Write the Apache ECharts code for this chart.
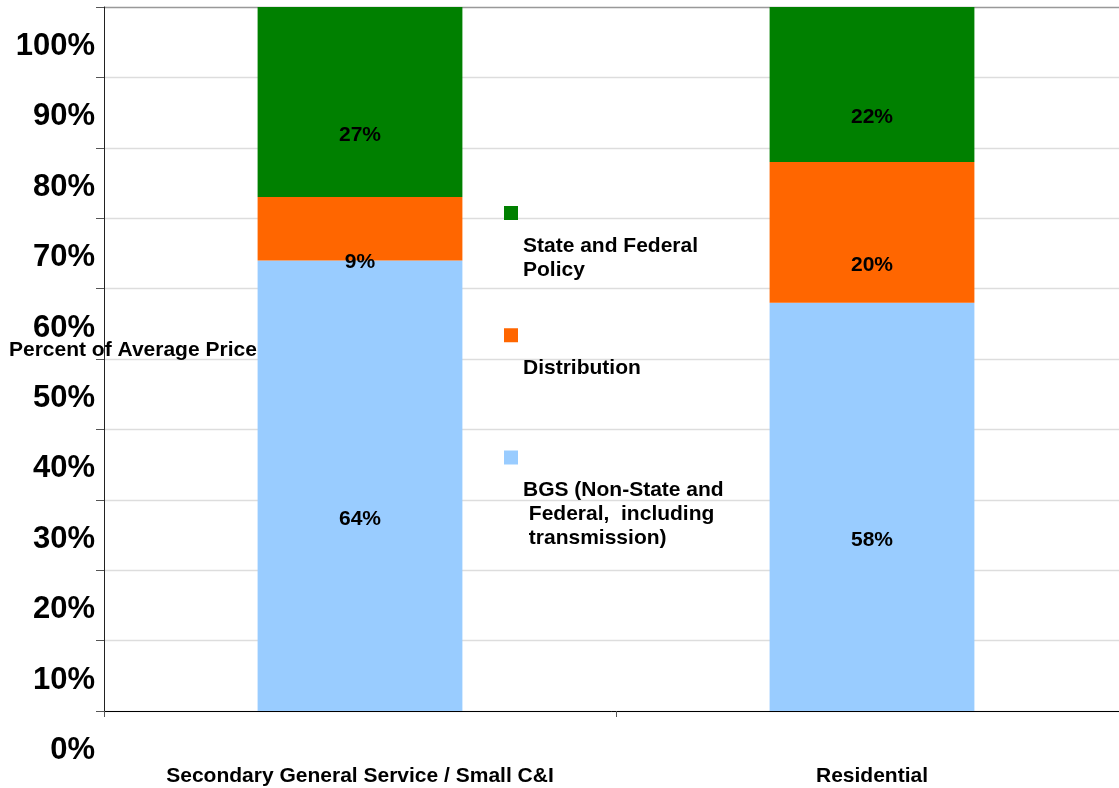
<!DOCTYPE html>
<html>
<head>
<meta charset="utf-8">
<script src="https://cdn.jsdelivr.net/npm/echarts@6/dist/echarts.min.js"></script>
<style>
  html, body { margin: 0; padding: 0; background: #fff; }
  #chart { width: 1119px; height: 788px; }
</style>
</head>
<body>
<div id="chart"></div>
<script>
// categories and values (percent of average price)
var categories = ['Secondary General Service / Small C&I', 'Residential'];
var bgsValues = [64, 58];
var distributionValues = [9, 20];
var policyValues = [27, 22];
var yTicks = [0, 10, 20, 30, 40, 50, 60, 70, 80, 90, 100];

var policyName = 'State and Federal Policy';
var distributionName = 'Distribution';
var bgsName = 'BGS (Non-State and Federal, including transmission)';
// how the legend wraps each name (padded to 3 lines so every item has the same height)
var legendLines = {};
legendLines[policyName] = ['State and Federal', 'Policy', ' '];
legendLines[distributionName] = ['Distribution', ' ', ' '];
legendLines[bgsName] = ['BGS (Non-State and', ' Federal,  including', ' transmission)'];

var font = 'Liberation Sans, Arial, sans-serif';

var chart = echarts.init(document.getElementById('chart'));

function barLabel() {
  return {
    show: true,
    position: 'inside',
    offset: [0, 33],
    formatter: '{c}%',
    color: '#000',
    fontSize: 21,
    fontWeight: 'bold',
    fontFamily: font
  };
}

// gridline colours: top line (100%) darker
var gridColors = yTicks.map(function (t, i) { return i === yTicks.length - 1 ? '#999' : '#ddd'; });

var option = {
  animation: false,
  title: {
    text: 'Percent of Average Price',
    left: 9,
    top: 338,
    padding: 0,
    textStyle: { fontSize: 21, fontWeight: 'bold', color: '#000', fontFamily: font, lineHeight: 24 }
  },
  legend: {
    orient: 'vertical',
    left: 504,
    top: 172,
    padding: 0,
    itemWidth: 14,
    itemHeight: 14,
    itemGap: -10.25,
    icon: 'rect',
    selectedMode: false,
    data: [policyName, distributionName, bgsName],
    // text sits below the swatch: a spacer line on top
    formatter: function (name) {
      var out = ['{top| }'];
      legendLines[name].forEach(function (l) { out.push('{t|' + l + '}'); });
      return out.join('\n');
    },
    textStyle: {
      rich: {
        top: { lineHeight: 114, fontSize: 10 },
        t: { fontSize: 21, fontWeight: 'bold', color: '#000', fontFamily: font, lineHeight: 24 }
      }
    }
  },
  grid: {
    left: 104,
    top: 7,
    width: 1024,
    height: 704,
    outerBoundsMode: 'none'
  },
  xAxis: {
    type: 'category',
    data: categories,
    axisLine: { lineStyle: { color: '#000', width: 1 } },
    axisTick: { show: true, length: 6, lineStyle: { color: '#555' } },
    axisLabel: {
      interval: 0,
      margin: 53,
      color: '#000',
      fontSize: 21,
      fontWeight: 'bold',
      fontFamily: font,
      lineHeight: 24
    }
  },
  yAxis: {
    type: 'value',
    min: 0,
    max: 100,
    interval: 10,
    axisLine: { show: true, lineStyle: { color: '#222' } },
    axisTick: { show: true, length: 8, lineStyle: { color: '#555' } },
    splitLine: { lineStyle: { color: gridColors, width: 1.3 } },
    axisLabel: {
      // labels sit half a step below their tick
      formatter: function (v) { return '{s| }{v|' + v + '%}'; },
      margin: 9,
      verticalAlign: 'top',
      showMinLabel: true,
      showMaxLabel: true,
      rich: {
        s: { fontSize: 1, lineHeight: 55 },
        v: {
          color: '#000',
          fontSize: 31,
          fontWeight: 'bold',
          fontFamily: font,
          lineHeight: 40,
          verticalAlign: 'bottom'
        }
      }
    }
  },
  series: [
    {
      name: bgsName,
      type: 'bar',
      stack: 'total',
      barWidth: '40%',
      itemStyle: { color: '#99CCFF' },
      label: barLabel(),
      data: bgsValues
    },
    {
      name: distributionName,
      type: 'bar',
      stack: 'total',
      barWidth: '40%',
      itemStyle: { color: '#FF6600' },
      label: barLabel(),
      data: distributionValues
    },
    {
      name: policyName,
      type: 'bar',
      stack: 'total',
      barWidth: '40%',
      itemStyle: { color: '#008000' },
      label: barLabel(),
      data: policyValues
    }
  ]
};

chart.setOption(option);
</script>
</body>
</html>
